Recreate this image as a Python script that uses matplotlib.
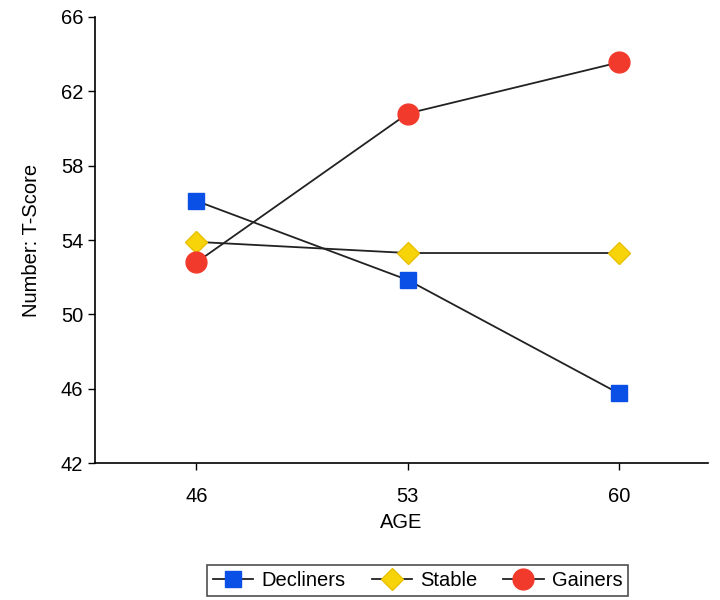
import matplotlib
matplotlib.use("Agg")
import matplotlib.pyplot as plt

# age groups and T-scores
ages = ["46", "53", "60"]
decliners = [56.1, 51.85, 45.75]
stable = [53.9, 53.3, 53.3]
gainers = [52.8, 60.8, 63.55]

plt.rcParams['font.family'] = ['Liberation Sans', 'DejaVu Sans']
fs = 14.5

fig = plt.figure(figsize=(7.2, 6), dpi=100)
ax = fig.add_axes([0.132, 0.228, 0.851, 0.744])

x = range(len(ages))
ax.plot(x, decliners, color='#222222', lw=1.3, marker='s', markersize=12,
        markerfacecolor='#0a50e6', markeredgecolor='#0a50e6', label='Decliners', zorder=3)
ax.plot(x, stable, color='#222222', lw=1.3, marker='D', markersize=11,
        markerfacecolor='#f7d40a', markeredgecolor='#e8c000', label='Stable', zorder=3)
ax.plot(x, gainers, color='#222222', lw=1.3, marker='o', markersize=15,
        markerfacecolor='#f23a2c', markeredgecolor='#f23a2c', label='Gainers', zorder=3)

ax.set_xlim(-0.48, 2.42)
ax.set_ylim(42, 66)
ax.set_xticks(list(x))
ax.set_xticklabels(ages)
ax.set_yticks([42, 46, 50, 54, 58, 62, 66])
ax.tick_params(labelsize=fs, direction='out', length=5, width=1)
ax.tick_params(axis='x', pad=12)
ax.spines['top'].set_visible(False)
ax.spines['right'].set_visible(False)
ax.spines['left'].set_linewidth(1.2)
ax.spines['bottom'].set_linewidth(1.2)

ax.set_xlabel('AGE', fontsize=fs, labelpad=5)
ax.set_ylabel('Number: T-Score', fontsize=fs, labelpad=14)

leg = fig.legend(loc='center', bbox_to_anchor=(0.58, 0.032), ncol=3, fontsize=fs,
                 frameon=True, fancybox=False, edgecolor='#222222',
                 handlelength=2.0, columnspacing=1.3, handletextpad=0.4,
                 borderpad=0.3)
leg.get_frame().set_linewidth(1.2)

fig.savefig('out.png', dpi=100)
